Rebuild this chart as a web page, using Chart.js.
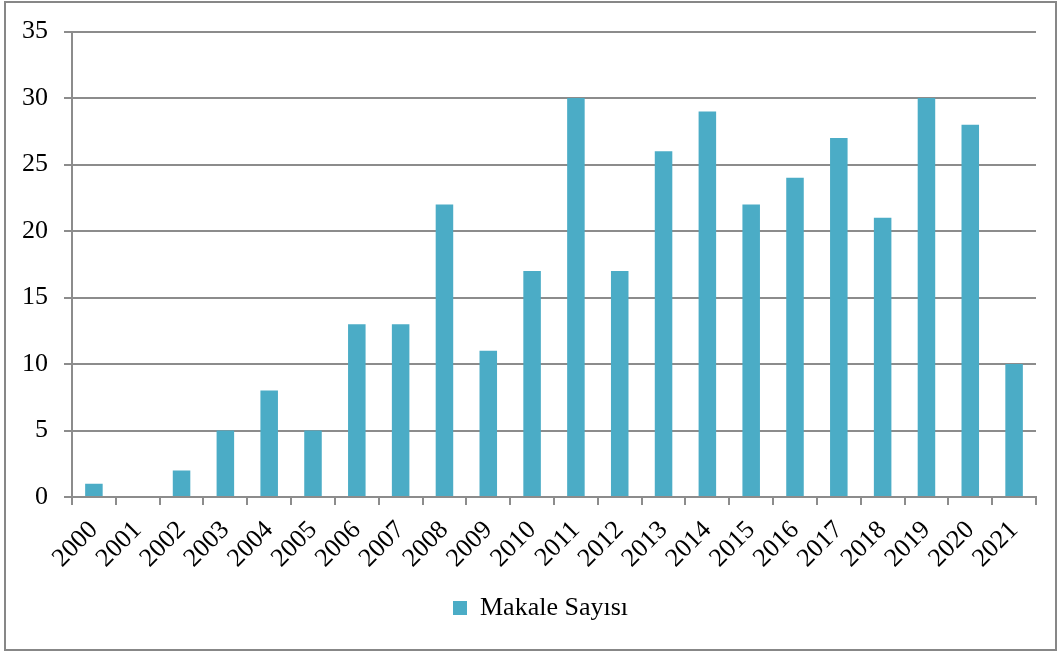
<!DOCTYPE html>
<html>
<head>
<meta charset="utf-8">
<script src="https://cdn.jsdelivr.net/npm/chart.js@4"></script>
<style>
  html, body { margin: 0; padding: 0; background: #fff; }
  #wrap { width: 1059px; height: 655px; }
</style>
</head>
<body>
<div id="wrap"><canvas id="c" width="1059" height="655"></canvas></div>
<script>
const years = ['2000','2001','2002','2003','2004','2005','2006','2007','2008','2009','2010',
  '2011','2012','2013','2014','2015','2016','2017','2018','2019','2020','2021'];
const makaleSayisi = [1, 0, 2, 5, 8, 5, 13, 13, 22, 11, 17, 30, 17, 26, 29, 22, 24, 27, 21, 30, 28, 10];
const yTicks = [0, 5, 10, 15, 20, 25, 30, 35];

const serif = "'Liberation Serif', 'Times New Roman', serif";
const gridGray = '#8c8c8c';

// white background + outer frame, and nudge the legend a bit right like the original
const framePlugin = {
  id: 'frame',
  afterLayout(chart) {
    chart.legend.left += 20;
    chart.legend.right += 20;
  },
  beforeDraw(chart) {
    const c = chart.ctx;
    c.save();
    c.fillStyle = '#fff';
    c.fillRect(0, 0, chart.width, chart.height);
    c.strokeStyle = '#878787';
    c.lineWidth = 2;
    c.strokeRect(5, 2, 1051, 648);
    c.restore();
  }
};

new Chart(document.getElementById('c'), {
  type: 'bar',
  data: {
    labels: years,
    datasets: [{
      label: 'Makale Sayısı',
      data: makaleSayisi,
      backgroundColor: '#4bacc6',
      categoryPercentage: 0.4,
      barPercentage: 1.0
    }]
  },
  options: {
    responsive: false,
    animation: false,
    layout: { padding: { left: 5, right: 23, top: 31, bottom: 24 } },
    plugins: {
      legend: {
        position: 'bottom',
        labels: {
          color: '#000',
          font: { family: serif, size: 26 },
          boxWidth: 14,
          boxHeight: 14,
          padding: 10
        }
      },
      tooltip: { enabled: false }
    },
    scales: {
      x: {
        afterFit(s) { s.height = 88; },
        grid: { offset: true, drawOnChartArea: false, color: gridGray, lineWidth: 2, tickLength: 8 },
        border: { color: gridGray, width: 2 },
        ticks: {
          color: '#000',
          font: { family: serif, size: 26 },
          autoSkip: false,
          minRotation: 45,
          maxRotation: 45,
          padding: 10
        }
      },
      y: {
        min: 0,
        max: 35,
        afterFit(s) { s.width = 67; },
        afterBuildTicks(s) { s.ticks = yTicks.map(v => ({ value: v })); },
        grid: { color: gridGray, lineWidth: 2, tickLength: 8 },
        border: { color: gridGray, width: 2 },
        ticks: {
          color: '#000',
          font: { family: serif, size: 26 },
          padding: 16
        }
      }
    }
  },
  plugins: [framePlugin]
});
</script>
</body>
</html>
